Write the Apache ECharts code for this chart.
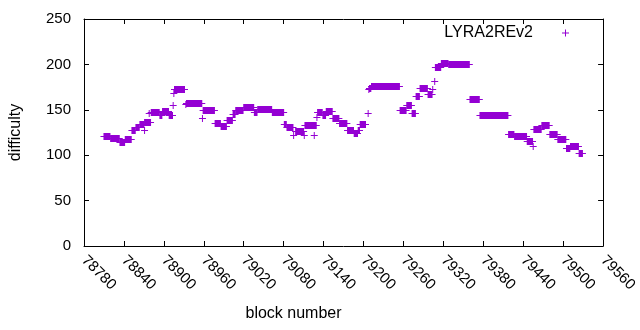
<!DOCTYPE html>
<html>
<head>
<meta charset="utf-8">
<script src="https://cdn.jsdelivr.net/npm/echarts@6/dist/echarts.min.js"></script>
<style>
  html, body { margin: 0; padding: 0; background: #fff; }
  #chart { width: 640px; height: 330px; }
</style>
</head>
<body>
<div id="chart"></div>
<script>
// runs of blocks sharing one difficulty value
const runStart = [78810, 78820, 78834, 78842, 78852, 78858, 78864, 78871, 78871, 78878,
  78881, 78894, 78898, 78908, 78914, 78915, 78916, 78933, 78934, 78958,
  78959, 78977, 78986, 78995, 79004, 79008, 79020, 79036, 79041, 79063,
  79081, 79085, 79095, 79098, 79111, 79112, 79126, 79130, 79131, 79139,
  79144, 79154, 79164, 79176, 79186, 79192, 79195, 79207, 79208, 79209,
  79212, 79255, 79265, 79273, 79279, 79285, 79297, 79304, 79307, 79308,
  79317, 79328, 79360, 79375, 79418, 79427, 79446, 79455, 79456, 79468,
  79480, 79492, 79505, 79511, 79524];
const runEnd = [78819, 78833, 78841, 78851, 78857, 78863, 78870, 78871, 78880, 78878,
  78893, 78897, 78907, 78913, 78914, 78915, 78931, 78933, 78957, 78958,
  78976, 78985, 78994, 79003, 79007, 79019, 79035, 79040, 79062, 79080,
  79084, 79094, 79095, 79110, 79111, 79129, 79126, 79130, 79138, 79143,
  79153, 79163, 79175, 79185, 79191, 79194, 79203, 79207, 79208, 79211,
  79254, 79264, 79272, 79278, 79284, 79296, 79303, 79304, 79307, 79316,
  79327, 79359, 79374, 79417, 79426, 79445, 79454, 79455, 79467, 79479,
  79491, 79504, 79510, 79523, 79529];
const runValue = [121, 118.5, 115, 118, 128, 131, 134, 127.5, 136.5, 147,
  148, 144.5, 148.5, 144.5, 155, 168, 172.5, 156, 158, 140.5,
  149.5, 135, 132, 139, 145, 150, 153, 148, 151, 148,
  134, 131, 122, 127, 122, 133, 122, 142, 148, 144.5,
  149, 141.5, 135, 127.5, 124.5, 127.5, 134.5, 147, 172.5, 174.5,
  176.5, 150, 155, 147, 165, 174.5, 167.5, 172.5, 181.5, 197,
  201, 200, 161.5, 144, 123, 121, 115.5, 110, 129, 133,
  123, 117.5, 108, 110, 102.5];

const seriesName = 'LYRA2REv2';
const color = '#9400d3';

const runs = runStart.map((s, i) => [s, runEnd[i], runValue[i]]);

const chart = echarts.init(document.getElementById('chart'));

const tickStyle = { show: true, inside: true, length: 5, lineStyle: { color: '#000', width: 1 } };
const lineStyle = { show: true, onZero: false, lineStyle: { color: '#000', width: 1 } };
const font = 'Liberation Sans, Arial, sans-serif';

const option = {
  animation: false,
  grid: { left: 84, right: 30, top: 19, bottom: 84 },
  legend: {
    data: [{ name: seriesName, icon: 'path://M3,0h1v3h3v1h-3v3h-1v-3h-3v-1h3z' }],
    right: 66,
    top: 20,
    align: 'right',
    itemWidth: 7,
    itemHeight: 7,
    selectedMode: false,
    textStyle: { fontFamily: font, fontSize: 16, color: '#000', padding: [6, 24, 0, 0] }
  },
  xAxis: [
    {
      type: 'value', min: 78780, max: 79560, interval: 60,
      name: 'block number', nameLocation: 'middle', nameGap: 60,
      nameTextStyle: { fontFamily: font, fontSize: 16, color: '#000', padding: [0, 100, 0, 0] },
      axisLine: lineStyle, axisTick: tickStyle, splitLine: { show: false },
      axisLabel: {
        rotate: -45, margin: 12, fontFamily: font, fontSize: 15, color: '#000',
        formatter: v => String(v)
      }
    },
    {
      type: 'value', position: 'top', min: 78780, max: 79560, interval: 60,
      axisLine: lineStyle, axisTick: tickStyle, splitLine: { show: false },
      axisLabel: { show: false }
    }
  ],
  yAxis: [
    {
      type: 'value', min: 0, max: 250, interval: 50,
      name: 'difficulty', nameLocation: 'middle', nameGap: 60, nameRotate: 90,
      nameTextStyle: { fontFamily: font, fontSize: 16, color: '#000' },
      axisLine: lineStyle, axisTick: tickStyle, splitLine: { show: false },
      axisLabel: { margin: 13, fontFamily: font, fontSize: 15, color: '#000' }
    },
    {
      type: 'value', position: 'right', min: 0, max: 250, interval: 50,
      axisLine: lineStyle, axisTick: tickStyle, splitLine: { show: false },
      axisLabel: { show: false }
    }
  ],
  series: [{
    name: seriesName,
    type: 'custom',
    xAxisIndex: 0,
    yAxisIndex: 0,
    itemStyle: { color: color },
    encode: { x: [0, 1], y: 2 },
    data: runs,
    clip: true,
    renderItem: function (params, api) {
      // each run is a row of '+' marks, one per block
      const p1 = api.coord([api.value(0), api.value(2)]);
      const p2 = api.coord([api.value(1), api.value(2)]);
      const y = Math.round(p1[1]) + 0.5;
      return {
        type: 'group',
        children: [
          {
            type: 'rect',
            shape: { x: p1[0] - 0.5, y: y - 3.5, width: p2[0] - p1[0] + 1, height: 7 },
            style: { fill: color }
          },
          {
            type: 'line',
            shape: { x1: p1[0] - 3.5, y1: y, x2: p2[0] + 3.5, y2: y },
            style: { stroke: color, lineWidth: 1 }
          }
        ]
      };
    }
  }]
};

chart.setOption(option);
</script>
</body>
</html>
